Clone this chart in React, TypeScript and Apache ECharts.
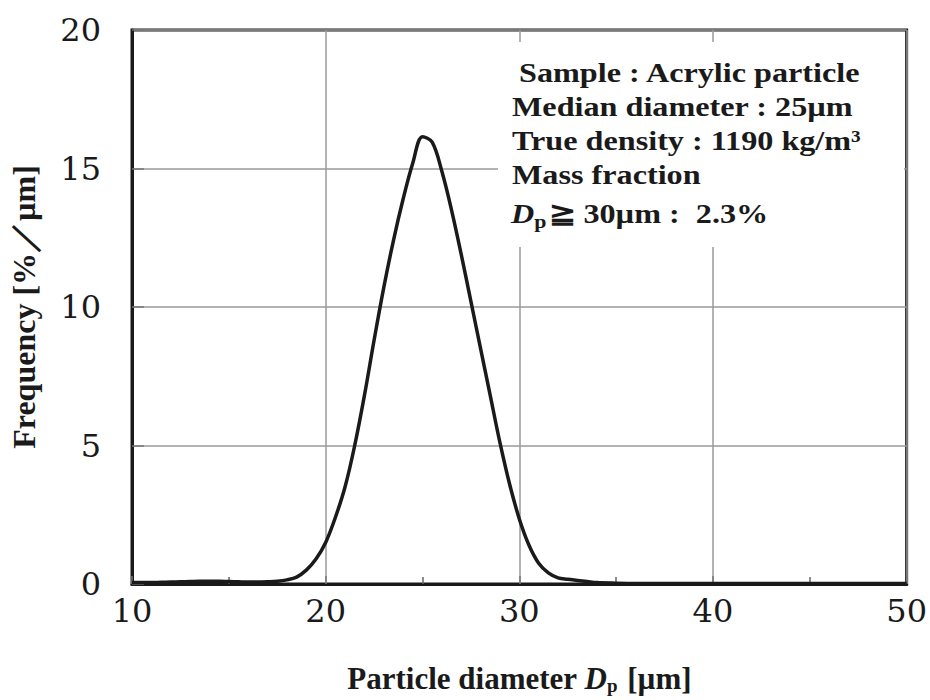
import React, { useEffect, useRef } from "react";
import * as echarts from "echarts";

const diameters: number[] = [
  10, 10.5, 11, 11.5, 12, 12.5, 13, 13.5, 14, 14.5, 15, 15.5, 16, 16.5, 17, 17.5, 18, 18.5, 19, 19.5,
  20, 20.5, 21, 21.5, 22, 22.5, 23, 23.5, 24, 24.5, 25, 25.5, 26, 26.5, 27, 27.5, 28, 28.5, 29, 29.5,
  30, 30.5, 31, 31.5, 32, 32.5, 33, 33.5, 34, 35, 36, 38, 40, 42, 44, 46, 48, 50,
];
const frequency: number[] = [
  0.05, 0.05, 0.05, 0.06, 0.07, 0.08, 0.09, 0.1, 0.1, 0.1, 0.09, 0.08, 0.07, 0.07, 0.08, 0.1, 0.15, 0.25, 0.5, 0.9,
  1.5, 2.4, 3.5, 5.0, 6.8, 8.8, 10.7, 12.4, 13.9, 15.2, 16.15, 15.95, 14.9, 13.5, 11.9, 10.2, 8.5, 6.8, 5.1, 3.6,
  2.35, 1.4, 0.75, 0.4, 0.22, 0.17, 0.13, 0.09, 0.05, 0.03, 0.02, 0.02, 0.02, 0.02, 0.02, 0.02, 0.02, 0.02,
];
const xTicks = { min: 10, max: 50, interval: 10 };
const yTicks = { min: 0, max: 20, interval: 5 };
const infoLines: string[] = [
  "Sample : Acrylic particle",
  "Median diameter : 25µm",
  "True density : 1190 kg/m³",
  "Mass fraction",
];
const massFractionValue = "≧ 30µm :  2.3%";

const App: React.FC = () => {
  const ref = useRef<HTMLDivElement>(null);
  useEffect(() => {
    if (!ref.current) return;
    const chart = echarts.init(ref.current, null, { renderer: "svg" });
    const serif = "Liberation Serif";
    const tickFont = "DejaVu Serif";
    const ink = "#1a1a1a";
    const boldText = { fontFamily: serif, fontWeight: "bold" as const, fontSize: 28, fill: ink };
    const sx = 1.15;
    const lineY = [73, 107, 141, 175];
    const lineX = [519, 512, 512, 512];
    chart.setOption({
      animation: false,
      backgroundColor: "#ffffff",
      grid: {
        left: 128,
        right: 22,
        top: 30,
        bottom: 113,
        show: true,
        borderColor: ink,
        borderWidth: 3,
      },
      xAxis: {
        type: "value",
        min: xTicks.min,
        max: xTicks.max,
        interval: xTicks.interval,
        name: "{n|Particle diameter }{i|D}{s|p}{n| [µm]}",
        nameLocation: "middle",
        nameGap: 78,
        nameTextStyle: {
          rich: {
            n: { fontFamily: serif, fontWeight: "bold", fontSize: 31, color: ink },
            i: { fontFamily: serif, fontWeight: "bold", fontStyle: "italic", fontSize: 31, color: ink },
            s: { fontFamily: serif, fontWeight: "bold", fontSize: 19, color: ink, padding: [14, 2, 0, 0] },
          },
        },
        axisLine: { show: true, lineStyle: { color: ink, width: 3 } },
        axisTick: { show: true, inside: true, length: 8, lineStyle: { color: "#777", width: 1.5 } },
        minorTick: { show: true, splitNumber: 2, length: 7, lineStyle: { color: "#666", width: 1.5 } },
        axisLabel: { fontFamily: tickFont, fontSize: 32, color: ink, margin: 11 },
        splitLine: { show: true, lineStyle: { color: "#9a9a9a", width: 1.5 } },
      },
      yAxis: {
        type: "value",
        min: yTicks.min,
        max: yTicks.max,
        interval: yTicks.interval,
        name: "Frequency [%／µm]",
        nameLocation: "middle",
        nameGap: 92,
        nameTextStyle: { fontFamily: serif, fontWeight: "bold", fontSize: 32, color: ink },
        axisLine: { show: true, lineStyle: { color: ink, width: 3 } },
        axisTick: { show: true, inside: true, length: 12, lineStyle: { color: "#777", width: 1.5 } },
        axisLabel: { fontFamily: tickFont, fontSize: 32, color: ink, margin: 31 },
        splitLine: { show: true, lineStyle: { color: "#9a9a9a", width: 1.5 } },
      },
      series: [
        {
          type: "line",
          data: diameters.map((d, i) => [d, frequency[i]]),
          showSymbol: false,
          smooth: 0.35,
          lineStyle: { color: ink, width: 3.5 },
          z: 5,
        },
      ],
      graphic: [
        {
          type: "rect",
          shape: { x: 498, y: 42, width: 406, height: 205 },
          style: { fill: "#ffffff" },
          z: 10,
        },
        ...infoLines.map((t, k) => ({
          type: "text",
          x: lineX[k],
          y: lineY[k],
          scaleX: sx,
          style: { ...boldText, text: t, textVerticalAlign: "middle" },
          z: 11,
        })),
        {
          type: "text",
          x: 511,
          y: 214,
          scaleX: sx,
          style: {
            text: "{i|D}{s|p}{n|" + massFractionValue + "}",
            textVerticalAlign: "middle",
            rich: {
              i: { fontFamily: serif, fontWeight: "bold", fontStyle: "italic", fontSize: 28, fill: ink },
              s: { fontFamily: serif, fontWeight: "bold", fontSize: 19, fill: ink, padding: [16, 2, 0, 0] },
              n: { fontFamily: serif, fontWeight: "bold", fontSize: 28, fill: ink },
            },
          },
          z: 11,
        },
      ],
    });
    return () => chart.dispose();
  }, []);
  return (
    <div
      ref={ref}
      style={{ position: "fixed", left: 0, top: 0, width: 930, height: 700, overflow: "visible" }}
    />
  );
};

export default App;
